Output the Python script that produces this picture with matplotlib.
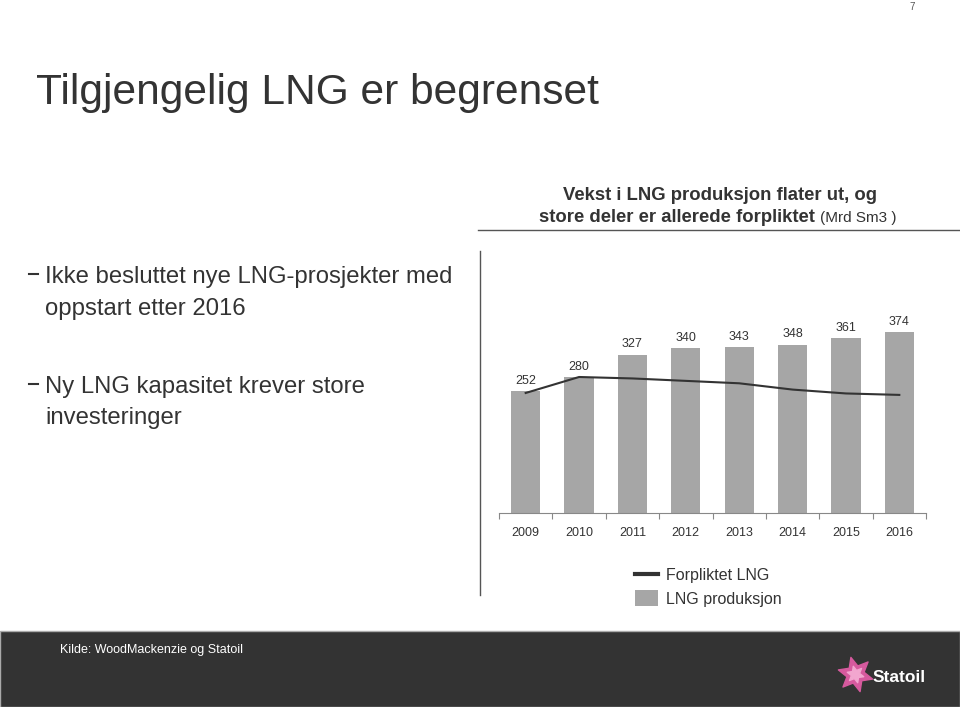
import matplotlib
matplotlib.use("Agg")
import matplotlib.pyplot as plt
from matplotlib.lines import Line2D
from matplotlib.patches import Rectangle, Patch

plt.rcParams['font.family'] = ['Liberation Sans', 'DejaVu Sans']

years = ["2009", "2010", "2011", "2012", "2013", "2014", "2015", "2016"]
production = [252, 280, 327, 340, 343, 348, 361, 374]
committed = [248, 281, 278, 273, 268, 255, 247, 244]

W, H = 960, 707
fig = plt.figure(figsize=(W / 100, H / 100), dpi=100)
fig.patch.set_facecolor("white")

def fx(x):
    return x / W

def fy(y):
    return 1 - y / H

# Title
fig.text(fx(36), fy(93), "Tilgjengelig LNG er begrenset", fontsize=30.6,
         color="#333333", va="center", ha="left")
fig.text(fx(912), fy(7), "7", fontsize=7, color="#555555", ha="center", va="center")

# Bullets
bullets = [(277, "Ikke besluttet nye LNG-prosjekter med", True),
           (309, "oppstart etter 2016", False),
           (387, "Ny LNG kapasitet krever store", True),
           (418, "investeringer", False)]
for y, txt, dash in bullets:
    fig.text(fx(45), fy(y), txt, fontsize=17.2, color="#333333", va="center", ha="left")
    if dash:
        fig.add_artist(Line2D([fx(29), fx(38)], [fy(y - 3), fy(y - 3)],
                              color="#333333", lw=1.5))

# Subtitle
fig.text(fx(720), fy(195), "Vekst i LNG produksjon flater ut, og", fontsize=13.3,
         fontweight="bold", color="#333333", ha="center", va="center")
fig.text(fx(539), fy(217), "store deler er allerede forpliktet", fontsize=13.3,
         fontweight="bold", color="#333333", ha="left", va="center")
fig.text(fx(820), fy(218), "(Mrd Sm3 )", fontsize=11,
         color="#333333", ha="left", va="center")

# Separator lines
fig.add_artist(Line2D([fx(478), fx(960)], [fy(230), fy(230)], color="#555555", lw=1))
fig.add_artist(Line2D([fx(480), fx(480)], [fy(251), fy(595)], color="#555555", lw=1))

# Chart axes
ax_left, ax_right, ax_bottom, ax_top = 499, 926, 513, 300
ax = fig.add_axes([fx(ax_left), fy(ax_bottom), fx(ax_right - ax_left),
                   (ax_bottom - ax_top) / H])
xpos = list(range(len(years)))
bars = ax.bar(xpos, production, width=0.55, color="#A6A6A6", zorder=2)
line, = ax.plot(xpos, committed, color="#333333", lw=1.5, zorder=3)
ax.set_xlim(-0.5, len(years) - 0.5)
ax.set_ylim(0, (ax_bottom - ax_top) / 0.484)
for x, v in zip(xpos, production):
    ax.text(x, v + 9, str(v), ha="center", va="bottom", fontsize=9, color="#333333")
for s in ["top", "right", "left"]:
    ax.spines[s].set_visible(False)
ax.spines["bottom"].set_color("#888888")
ax.set_yticks([])
ax.set_xticks([i - 0.5 for i in range(len(years) + 1)])
ax.set_xticklabels([])
ax.set_xticks(xpos, minor=True)
ax.set_xticklabels(years, minor=True, fontsize=9, color="#333333")
ax.tick_params(axis="x", which="major", length=4, color="#888888")
ax.tick_params(axis="x", which="minor", length=0, pad=10)
ax.patch.set_alpha(0)

# Legend
handles = [Line2D([0], [0], color="#333333", lw=3),
           Patch(facecolor="#A6A6A6", edgecolor="none")]
fig.legend(handles, ["Forpliktet LNG", "LNG produksjon"],
           loc="upper left", bbox_to_anchor=(fx(624), fy(556)), frameon=False,
           fontsize=11.5, handlelength=1.4, handleheight=1.1, labelspacing=0.45,
           handletextpad=0.5, labelcolor="#333333", borderpad=0.2)

# Footer
fig.add_artist(Rectangle((0, 0), 1, fy(631), transform=fig.transFigure,
                         facecolor="#333333", edgecolor="#AAAAAA", lw=1, zorder=1))
fig.text(fx(60), fy(650), "Kilde: WoodMackenzie og Statoil", fontsize=9,
         color="white", ha="left", va="center")
star = fig.add_axes([fx(830), fy(699), fx(50), 50 / H])
star.set_zorder(5)
star.set_axis_off()
star.patch.set_alpha(0)
star.scatter([0], [0], s=650, marker=(6, 1, 15), color="#D65A9E")
star.scatter([0], [0], s=150, marker=(6, 1, 15), color="#F2A6CF")
star.set_xlim(-1, 1)
star.set_ylim(-1, 1)
fig.text(fx(873), fy(678), "Statoil", fontsize=12.5, fontweight="bold",
         color="white", ha="left", va="center", zorder=6)

fig.savefig("out.png", dpi=100)
